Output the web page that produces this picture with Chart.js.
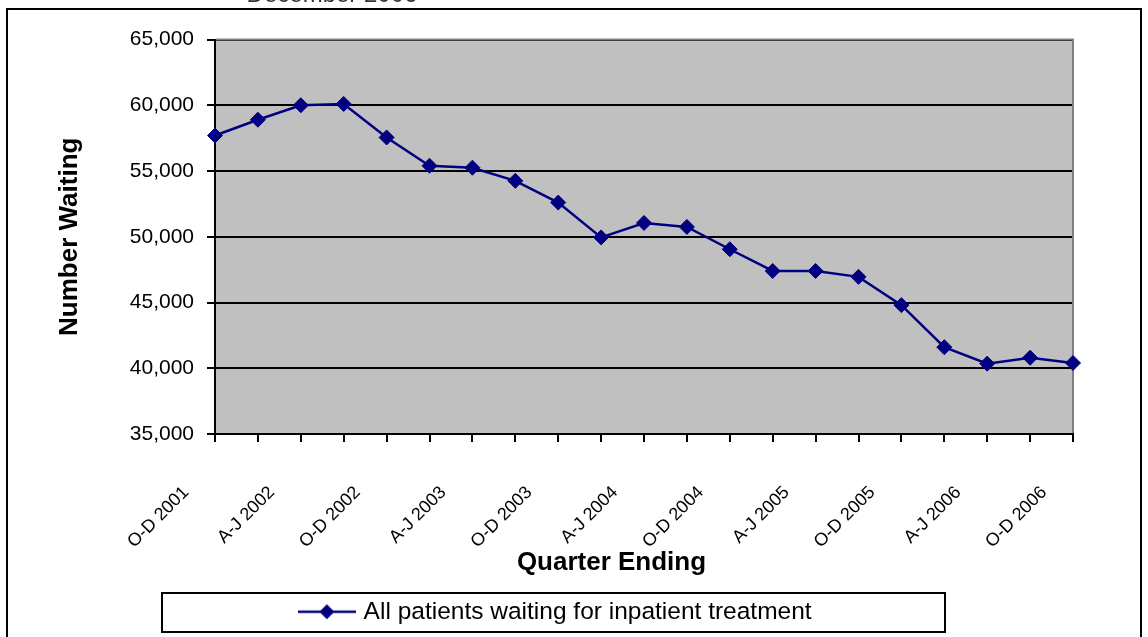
<!DOCTYPE html>
<html>
<head>
<meta charset="utf-8">
<script src="https://cdn.jsdelivr.net/npm/chart.js@4.4.0/dist/chart.umd.min.js"></script>
<style>
html,body{margin:0;padding:0;background:#ffffff;}
#wrap{width:1148px;height:637px;position:relative;overflow:hidden;}
canvas{display:block;}
</style>
</head>
<body>
<div id="wrap"><canvas id="c" width="1148" height="637"></canvas></div>
<script>
// ---- data ----
const quarters = [
  'O-D 2001',
  'J-M 2002', 'A-J 2002', 'J-S 2002', 'O-D 2002',
  'J-M 2003', 'A-J 2003', 'J-S 2003', 'O-D 2003',
  'J-M 2004', 'A-J 2004', 'J-S 2004', 'O-D 2004',
  'J-M 2005', 'A-J 2005', 'J-S 2005', 'O-D 2005',
  'J-M 2006', 'A-J 2006', 'J-S 2006', 'O-D 2006'
];
const waiting = [
  57700,
  58900, 60000, 60100, 57550,
  55400, 55250, 54250, 52600,
  49950, 51050, 50750, 49050,
  47400, 47400, 46950, 44800,
  41600, 40350, 40800, 40400
];
const yTickValues = [35000, 40000, 45000, 50000, 55000, 60000, 65000];
const seriesName = 'All patients waiting for inpatient treatment';
const xTitle = 'Quarter Ending';
const yTitle = 'Number Waiting';
const headerText = 'December 2006';

const FONT = "'Liberation Sans', Arial, Helvetica, sans-serif";
const NAVY = '#000080';

function legendSymbol() {
  const c = document.createElement('canvas');
  c.width = 58; c.height = 18;
  const g = c.getContext('2d');
  g.strokeStyle = NAVY; g.lineWidth = 2.5;
  g.beginPath(); g.moveTo(0, 9); g.lineTo(58, 9); g.stroke();
  g.fillStyle = NAVY;
  g.beginPath(); g.moveTo(29, 1.5); g.lineTo(36.5, 9); g.lineTo(29, 16.5); g.lineTo(21.5, 9); g.closePath(); g.fill();
  return c;
}
const symbol = legendSymbol();

const decor = {
  id: 'decor',
  beforeDraw(chart) {
    const {ctx, chartArea: a} = chart;
    ctx.save();
    ctx.fillStyle = '#ffffff';
    ctx.fillRect(0, 0, chart.width, chart.height);
    ctx.fillStyle = '#c0c0c0';
    ctx.fillRect(a.left, a.top, a.right - a.left, a.bottom - a.top);
    ctx.restore();
  },
  beforeDatasetsDraw(chart) {
    const {ctx, chartArea: a} = chart;
    ctx.save();
    ctx.strokeStyle = '#808080';
    ctx.lineWidth = 2;
    ctx.beginPath();
    ctx.moveTo(a.left + 1, a.top);
    ctx.lineTo(a.right, a.top);
    ctx.lineTo(a.right, a.bottom - 1);
    ctx.stroke();
    ctx.restore();
  },
  afterDraw(chart) {
    const {ctx} = chart;
    ctx.save();
    // outer chart frame
    ctx.strokeStyle = '#000000';
    ctx.lineWidth = 2;
    ctx.beginPath();
    ctx.moveTo(7, 640);
    ctx.lineTo(7, 9);
    ctx.lineTo(1141, 9);
    ctx.lineTo(1141, 640);
    ctx.stroke();
    // legend frame
    ctx.strokeRect(162, 593, 783, 39);
    // header (mostly cropped above the picture)
    ctx.fillStyle = '#333333';
    ctx.font = '24px ' + FONT;
    ctx.textAlign = 'center';
    ctx.textBaseline = 'alphabetic';
    ctx.fillText(headerText, 332, 1.5);
    ctx.restore();
  }
};

new Chart(document.getElementById('c'), {
  type: 'line',
  data: {
    labels: quarters,
    datasets: [{
      label: seriesName,
      data: waiting,
      borderColor: NAVY,
      backgroundColor: NAVY,
      borderWidth: 2.5,
      pointStyle: 'rectRot',
      pointRadius: 7.5,
      pointBackgroundColor: NAVY,
      pointBorderColor: NAVY,
      pointBorderWidth: 1,
      tension: 0,
      clip: false
    }]
  },
  options: {
    responsive: false,
    devicePixelRatio: 1,
    animation: false,
    events: [],
    layout: { padding: { left: 41, right: 75, top: 39.5, bottom: 3 } },
    scales: {
      x: {
        type: 'category',
        offset: false,
        afterFit(s) { s.height = 155.5; },
        grid: { drawOnChartArea: false, drawTicks: true, tickLength: 8, color: '#000', lineWidth: 2 },
        border: { display: true, color: '#000', width: 2 },
        ticks: {
          autoSkip: false,
          maxRotation: 45,
          minRotation: 45,
          labelOffset: -29,
          padding: 40,
          color: '#000',
          font: { family: FONT, size: 18 },
          callback: function (val, idx) { return idx % 2 === 0 ? this.getLabelForValue(val) : ''; }
        },
        title: {
          display: true,
          text: xTitle + '         ',
          color: '#000',
          font: { family: FONT, size: 26, weight: 'bold' },
          padding: { top: 0, bottom: 11.4 }
        }
      },
      y: {
        min: 35000,
        max: 65000,
        afterFit(s) { s.width = 174; },
        afterBuildTicks(s) { s.ticks = yTickValues.map(v => ({ value: v })); },
        grid: { color: '#000', lineWidth: 2, drawTicks: true, tickLength: 8, tickColor: '#000' },
        border: { display: true, color: '#000', width: 2 },
        ticks: {
          padding: 13,
          color: '#000',
          font: { family: FONT, size: 21 },
          callback: v => Number(v).toLocaleString('en-US')
        },
        title: {
          display: true,
          text: yTitle,
          color: '#000',
          font: { family: FONT, size: 26, weight: 'bold' },
          padding: { top: 13, bottom: 0 }
        }
      }
    },
    plugins: {
      title: { display: false },
      tooltip: { enabled: false },
      legend: {
        display: true,
        position: 'bottom',
        labels: {
          usePointStyle: true,
          pointStyleWidth: 49,
          padding: 10,
          color: '#000',
          font: { family: FONT, size: 24.5 },
          generateLabels: () => [{
            text: seriesName,
            pointStyle: symbol,
            fillStyle: NAVY,
            strokeStyle: NAVY,
            lineWidth: 0,
            hidden: false,
            datasetIndex: 0
          }]
        }
      }
    }
  },
  plugins: [decor]
});
</script>
</body>
</html>
